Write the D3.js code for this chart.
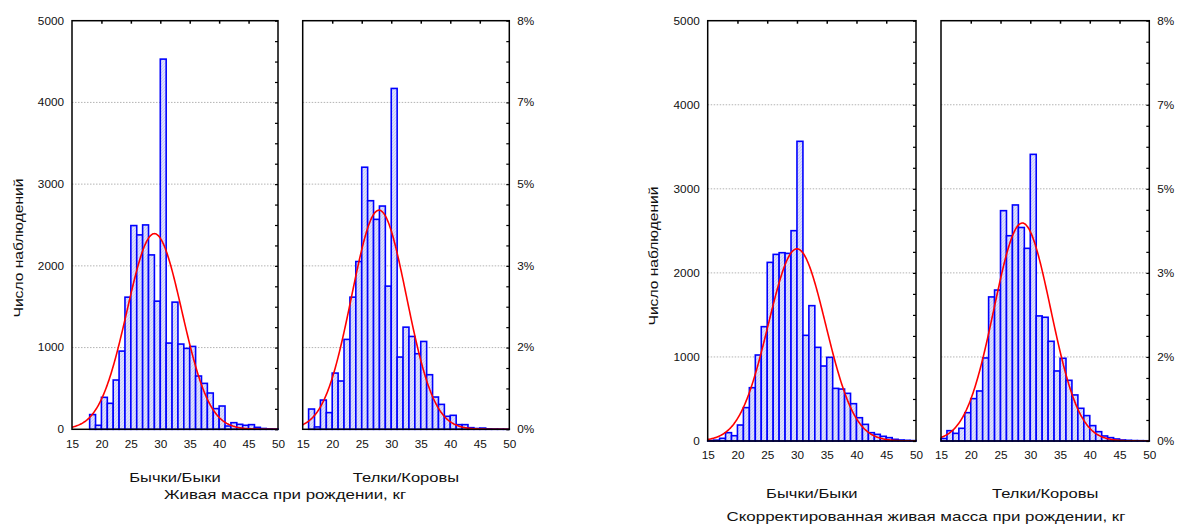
<!DOCTYPE html>
<html>
<head>
<meta charset="utf-8">
<script src="https://cdn.jsdelivr.net/npm/d3@7"></script>
<style>
  html, body { margin: 0; padding: 0; background: #fff; }
  svg { display: block; font-family: "Liberation Sans", Arial, sans-serif; }
</style>
</head>
<body>
<svg id="chart" width="1177" height="526"></svg>
<script>
// Histogram bins: 1 kg wide, lower edges 15 … 49
const binStart = [15,16,17,18,19,20,21,22,23,24,25,26,27,28,29,30,31,32,33,34,35,36,37,38,39,40,41,42,43,44,45,46,47,48,49];

// Birth weight counts, raw
const bullsRaw   = [0,0,0,180,49,391,318,603,957,1617,2493,2379,2501,2134,1568,4530,1055,1556,1043,990,1014,652,562,444,253,285,40,81,61,49,57,24,10,6,4];
const heifersRaw = [0,248,29,358,204,688,591,1100,1617,2053,3207,2797,2569,2732,1752,4171,884,1250,1136,925,1075,668,395,305,159,171,57,57,20,10,15,6,4,3,2];

// Birth weight counts, corrected
const bullsAdj   = [5,10,32,99,63,190,397,634,1023,1360,2125,2220,2240,2232,2502,3565,1257,1610,1114,892,995,626,618,567,444,277,198,99,79,56,40,20,12,8,5];
const heifersAdj = [30,123,91,151,337,504,595,988,1714,1796,2740,2442,2808,2540,2292,3410,1488,1472,1186,833,984,722,548,389,302,183,111,60,40,24,12,8,5,4,3];

// Fitted normal curves (mean, sd in kg) for each histogram
const fitMean = [29.0, 27.93, 30.0, 28.66];
const fitSd   = [4.65, 4.65, 4.82, 4.76];

// Axis ticks and labels
const xTicks    = [15,20,25,30,35,40,45,50];
const yTicks    = [0,1000,2000,3000,4000,5000];
const pctLabels = ["0%","2%","3%","5%","7%","8%"];
const groupNames = ["Бычки/Быки", "Телки/Коровы"];
const yTitle = "Число наблюдений";
const xTitles = ["Живая масса при рождении, кг", "Скорректированная живая масса при рождении, кг"];

const svg = d3.select("#chart");

// hatched bar fill
const defs = svg.append("defs");
const pat = defs.append("pattern").attr("id", "hatch")
  .attr("patternUnits", "userSpaceOnUse").attr("width", 3).attr("height", 3);
pat.append("rect").attr("width", 3).attr("height", 3).attr("fill", "#dcdffc");
pat.append("path").attr("d", "M-1,1 l2,-2 M0,3 l3,-3 M2,4 l2,-2")
  .attr("stroke", "#bfc3f6").attr("stroke-width", 0.7);

const charts = [
  { series: [bullsRaw, heifersRaw], fit: [0, 1], top: 20.7, bottom: 429.3,
    panels: [[72, 278], [302.7, 509.3]], yTitleX: 23, yTitleY: 248,
    subY: 482, titleY: 499, titleX: 285 },
  { series: [bullsAdj, heifersAdj], fit: [2, 3], top: 20.7, bottom: 441,
    panels: [[707.7, 916], [941, 1149.3]], yTitleX: 658, yTitleY: 256,
    subY: 498, titleY: 521, titleX: 926 }
];

function stretch(sel, k) {
  sel.each(function () {
    const w = this.getComputedTextLength();
    d3.select(this).attr("textLength", w * k).attr("lengthAdjust", "spacingAndGlyphs");
  });
}

charts.forEach((c, ci) => {
  const g = svg.append("g");
  const y = d3.scaleLinear().domain([0, 5000]).range([c.bottom, c.top]);

  c.panels.forEach(([x0, x1], pi) => {
    const x = d3.scaleLinear().domain([15, 50]).range([x0, x1]);
    const data = c.series[pi];
    const pg = g.append("g");
    const clipId = `clip-${ci}-${pi}`;
    defs.append("clipPath").attr("id", clipId)
      .append("rect").attr("x", x0).attr("y", c.top).attr("width", x1 - x0).attr("height", c.bottom - c.top);

    // dotted gridlines
    pg.append("g").selectAll("line").data(yTicks.slice(1, -1)).join("line")
      .attr("x1", x0).attr("x2", x1).attr("y1", d => y(d)).attr("y2", d => y(d))
      .attr("stroke", "#b4b4b4").attr("stroke-width", 1).attr("stroke-dasharray", "1.5,1.5");

    // bars
    pg.append("g").selectAll("rect").data(binStart.map((b, i) => ({ b, v: data[i] })).filter(d => d.v > 0))
      .join("rect")
      .attr("x", d => x(d.b)).attr("width", d => x(d.b + 1) - x(d.b))
      .attr("y", d => y(d.v)).attr("height", d => y(0) - y(d.v))
      .attr("fill", "url(#hatch)").attr("stroke", "#0000ff").attr("stroke-width", 1.6);

    // fitted normal curve, scaled to the counts of this group
    const n = d3.sum(data), m = fitMean[c.fit[pi]], s = fitSd[c.fit[pi]];
    const dens = v => n / (s * Math.sqrt(2 * Math.PI)) * Math.exp(-0.5 * ((v - m) / s) ** 2);
    const xs = d3.range(15, 50.001, 0.1);
    pg.append("path").datum(xs)
      .attr("clip-path", `url(#${clipId})`)
      .attr("d", d3.line().x(v => x(v)).y(v => y(dens(v))))
      .attr("fill", "none").attr("stroke", "#ff0000").attr("stroke-width", 1.6);

    // frame
    pg.append("rect").attr("x", x0).attr("y", c.top).attr("width", x1 - x0).attr("height", c.bottom - c.top)
      .attr("fill", "none").attr("stroke", "#000").attr("stroke-width", 1.5);

    // inward ticks on top edge
    pg.append("g").attr("transform", `translate(0,${c.top})`)
      .call(d3.axisBottom(x).tickValues(xTicks.slice(1, -1)).tickSize(3).tickFormat(""))
      .call(a => a.select(".domain").remove())
      .selectAll("line").attr("stroke-width", 1.5);

    // inward minor ticks on right edge
    pg.append("g").attr("transform", `translate(${x1},0)`)
      .call(d3.axisLeft(y).tickValues(d3.range(0, 5001, 250)).tickSize(3).tickFormat(""))
      .call(a => a.select(".domain").remove())
      .selectAll("line").attr("stroke-width", 1.2);

    // bottom labels
    const xa = pg.append("g").attr("transform", `translate(0,${c.bottom})`)
      .call(d3.axisBottom(x).tickValues(xTicks).tickSize(0).tickPadding(11).tickFormat(d3.format("d")))
      .call(a => a.select(".domain").remove());
    xa.selectAll("text").attr("font-size", 10.5).attr("fill", "#111").attr("font-family", null);
    stretch(xa.selectAll("text"), 1.12);

    // group name
    const t = pg.append("text").attr("x", (x0 + x1) / 2).attr("y", c.subY)
      .attr("text-anchor", "middle").attr("font-size", 13).attr("fill", "#111").text(groupNames[pi]);
    stretch(t, 1.27);

    if (pi === 0) {
      const ya = pg.append("g").attr("transform", `translate(${x0 - 8},0)`)
        .call(d3.axisLeft(y).tickValues(yTicks).tickSize(0).tickPadding(0).tickFormat(d3.format("d")))
        .call(a => a.select(".domain").remove());
      ya.selectAll("text").attr("font-size", 10.5).attr("fill", "#111").attr("font-family", null);
      stretch(ya.selectAll("text"), 1.12);
    } else {
      const pa = pg.append("g").attr("transform", `translate(${x1 + 8},0)`)
        .call(d3.axisRight(y).tickValues(yTicks).tickSize(0).tickPadding(0)
          .tickFormat((d, i) => pctLabels[i]))
        .call(a => a.select(".domain").remove());
      pa.selectAll("text").attr("font-size", 10.5).attr("fill", "#111").attr("font-family", null);
      stretch(pa.selectAll("text"), 1.12);
    }
  });

  // axis titles
  const yt = g.append("text")
    .attr("transform", `translate(${c.yTitleX},${c.yTitleY}) rotate(-90)`)
    .attr("text-anchor", "middle").attr("font-size", 13).attr("fill", "#111").text(yTitle);
  stretch(yt, 1.2);
  const xt = g.append("text").attr("x", c.titleX).attr("y", c.titleY)
    .attr("text-anchor", "middle").attr("font-size", 13).attr("fill", "#111").text(xTitles[ci]);
  stretch(xt, 1.3);
});
</script>
</body>
</html>
